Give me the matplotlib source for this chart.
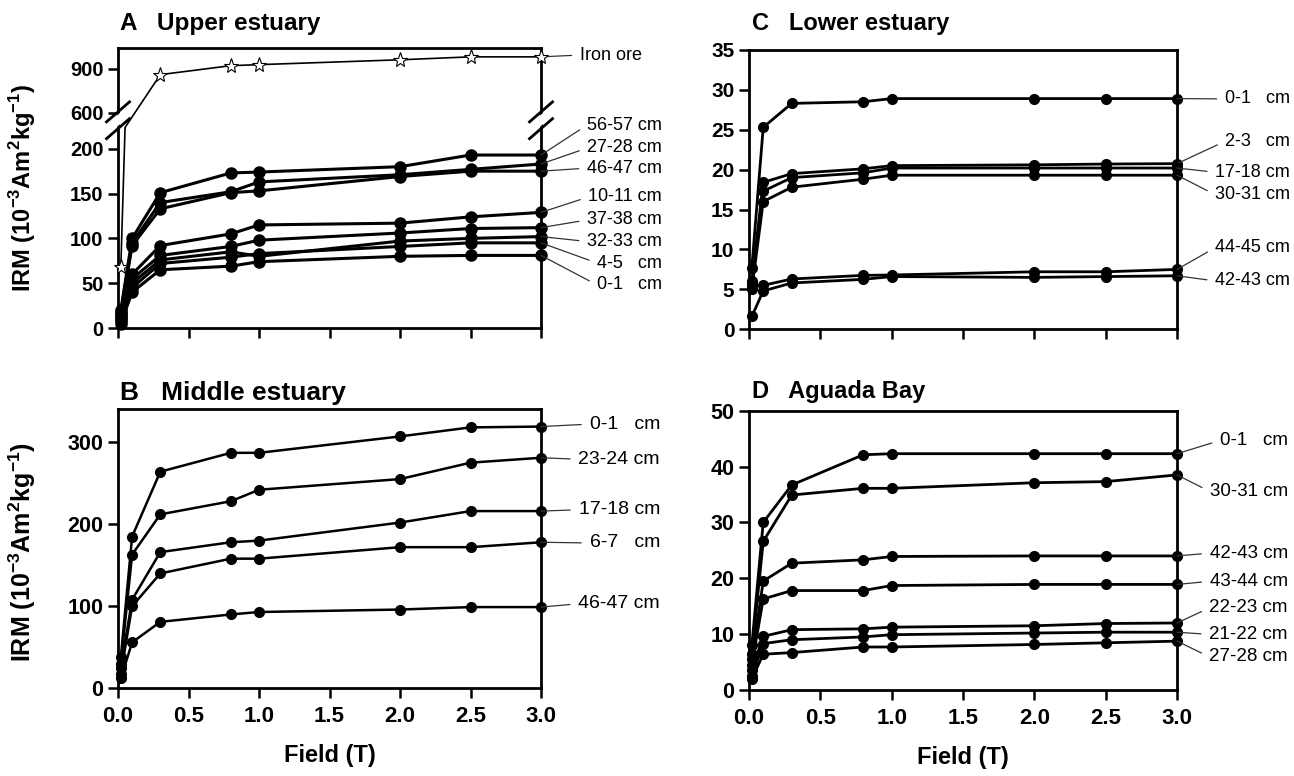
import matplotlib
matplotlib.use("Agg")
import matplotlib.pyplot as plt
import numpy as np
from matplotlib.patches import Polygon
from matplotlib.lines import Line2D

FONT = "Liberation Sans"
plt.rcParams["font.family"] = [FONT, "DejaVu Sans"]
plt.rcParams["mathtext.fontset"] = "custom"
plt.rcParams["mathtext.rm"] = FONT
plt.rcParams["mathtext.bf"] = FONT + ":bold"

# ---- dati (campo in T, IRM in 10^-3 Am2/kg) ----
field = [0.02, 0.1, 0.3, 0.8, 1.0, 2.0, 2.5, 3.0]

# A - Upper estuary
iron_field = [0.02, 0.05, 0.3, 0.8, 1.0, 2.0, 2.5, 3.0]
iron_ore = [68, 290, 859, 920, 927, 960, 980, 980]
a_labels = ["56-57 cm", "27-28 cm", "46-47 cm", "10-11 cm", "37-38 cm",
            "32-33 cm", "4-5   cm", "0-1   cm"]
a_values = [
    [20, 100, 151, 173, 174, 180, 193, 193],
    [18, 95, 140, 152, 163, 171, 177, 183],
    [16, 92, 133, 151, 153, 169, 175, 175],
    [14, 60, 92, 105, 115, 117, 124, 129],
    [12, 55, 81, 91, 98, 106, 111, 112],
    [10, 50, 76, 85, 80, 97, 100, 102],
    [8, 45, 72, 79, 83, 91, 95, 95],
    [5, 40, 65, 69, 74, 80, 81, 81],
]

# B - Middle estuary
b_labels = ["0-1   cm", "23-24 cm", "17-18 cm", "6-7   cm", "46-47 cm"]
b_values = [
    [38, 185, 264, 287, 287, 307, 318, 319],
    [30, 163, 212, 228, 242, 255, 275, 281],
    [25, 108, 166, 178, 180, 202, 216, 216],
    [18, 100, 140, 158, 158, 172, 172, 178],
    [12, 56, 81, 90, 93, 96, 99, 99],
]

# C - Lower estuary
c_labels = ["0-1   cm", "2-3   cm", "17-18 cm", "30-31 cm", "44-45 cm", "42-43 cm"]
c_values = [
    [7.7, 25.3, 28.3, 28.5, 28.9, 28.9, 28.9, 28.9],
    [6.0, 18.4, 19.5, 20.1, 20.5, 20.6, 20.7, 20.75],
    [5.5, 17.3, 19.0, 19.6, 20.2, 20.2, 20.2, 20.2],
    [5.0, 16.0, 17.8, 18.8, 19.3, 19.3, 19.3, 19.3],
    [5.5, 5.5, 6.3, 6.75, 6.8, 7.2, 7.2, 7.5],
    [1.6, 4.8, 5.8, 6.25, 6.6, 6.5, 6.6, 6.7],
]

# D - Aguada Bay
d_labels = ["0-1   cm", "30-31 cm", "42-43 cm", "43-44 cm", "22-23 cm",
            "21-22 cm", "27-28 cm"]
d_values = [
    [8.0, 30.0, 36.7, 42.1, 42.3, 42.3, 42.3, 42.3],
    [6.5, 26.6, 34.9, 36.1, 36.1, 37.1, 37.3, 38.5],
    [5.5, 19.5, 22.7, 23.3, 23.9, 24.0, 24.0, 24.0],
    [4.5, 16.3, 17.8, 17.8, 18.7, 18.9, 18.9, 18.9],
    [3.5, 9.6, 10.8, 10.95, 11.25, 11.5, 11.9, 12.0],
    [2.5, 8.3, 9.0, 9.5, 9.9, 10.2, 10.35, 10.35],
    [2.0, 6.4, 6.7, 7.7, 7.7, 8.15, 8.45, 8.75],
]

# posizione delle etichette (frazione degli assi): x bordo destro, y centro
a_lab_x, a_lab_y = 1.286, [0.725, 0.643, 0.571, 0.468, 0.386, 0.309, 0.232, 0.154]
b_lab_x, b_lab_y = 1.281, [0.947, 0.821, 0.640, 0.521, 0.303]
c_lab_x, c_lab_y = 1.264, [0.8245, 0.673, 0.562, 0.482, 0.292, 0.173]
d_lab_x, d_lab_y = 1.259, [0.893, 0.711, 0.490, 0.389, 0.294, 0.199, 0.119]

ylabel = r"IRM (10$^{\mathbf{-3}}$Am$^{\mathbf{2}}$kg$^{\mathbf{-1}}$)"

# asse y spezzato per il pannello A
y_knots = [-1000, 0, 220, 600, 3000]
p_knots = [-1000, 0, 220, 240.2, 240.2 + 2400 * 0.164]


def fwd(y):
    return np.interp(y, y_knots, p_knots)


def inv(p):
    return np.interp(p, p_knots, y_knots)


def style_axes(ax, xsize, ysize, show_xlabels):
    for s in ax.spines.values():
        s.set_linewidth(2.0)
    ax.set_xlim(0, 3.0)
    ax.set_xticks(np.arange(0, 3.01, 0.5))
    ax.tick_params(direction="out", length=7, width=1.8, top=False, right=False)
    ax.tick_params(axis="x", pad=6)
    if show_xlabels:
        ax.set_xticklabels([f"{v:.1f}" for v in np.arange(0, 3.01, 0.5)])
    else:
        ax.set_xticklabels([])
    for lab in ax.get_xticklabels():
        lab.set_fontweight("bold")
        lab.set_fontsize(xsize)
    for lab in ax.get_yticklabels():
        lab.set_fontweight("bold")
        lab.set_fontsize(ysize)


def draw_series(ax, values, labels, lab_x, lab_y, lw, ms, fsize):
    for vals, lab, ly in zip(values, labels, lab_y):
        ax.plot(field, vals, "-o", color="black", lw=lw, ms=ms, clip_on=False, zorder=3)
        ax.annotate(lab, xy=(field[-1], vals[-1]), xycoords="data",
                    xytext=(lab_x, ly), textcoords="axes fraction",
                    ha="right", va="center", fontsize=fsize,
                    arrowprops=dict(arrowstyle="-", color="#333333", lw=0.9,
                                    relpos=(0, 0.5), shrinkA=4, shrinkB=0))


fig = plt.figure(figsize=(12.94, 7.76), dpi=100)
axA = fig.add_axes([0.0912, 0.5773, 0.3269, 0.3608])
axB = fig.add_axes([0.0912, 0.1130, 0.3269, 0.3595])
axC = fig.add_axes([0.5788, 0.5757, 0.3308, 0.3600])
axD = fig.add_axes([0.5788, 0.1108, 0.3308, 0.3600])

# ---- A ----
axA.set_yscale("function", functions=(fwd, inv))
axA.set_ylim(0, 1040)
axA.set_yticks([0, 50, 100, 150, 200, 600, 900])
axA.set_yticklabels(["0", "50", "100", "150", "200", "600", "900"])
style_axes(axA, 14, 14.5, False)
draw_series(axA, a_values, a_labels, a_lab_x, a_lab_y, 2.2, 8, 13)
# il punto a 0.05 T cade nell'interruzione: niente marker
axA.plot(iron_field, iron_ore, "-*", color="black", lw=1.2, ms=11,
         mfc="white", mec="black", mew=0.8, clip_on=False, zorder=4,
         markevery=[0, 2, 3, 4, 5, 6, 7])
axA.annotate("Iron ore", xy=(iron_field[-1], iron_ore[-1]), xycoords="data",
             xytext=(1.092, 0.975), textcoords="axes fraction",
             ha="left", va="center", fontsize=13,
             arrowprops=dict(arrowstyle="-", color="#333333", lw=0.9,
                             relpos=(0, 0.5), shrinkA=4, shrinkB=0))

# segni di interruzione dell'asse
dx, dy = 0.0272, 0.0357
c1, c2 = 0.772, 0.712
for x0 in (0.0, 1.0):
    band = Polygon([(x0 - dx, c2 - dy + 0.01), (x0 + dx, c2 + dy + 0.01),
                    (x0 + dx, c1 + dy - 0.01), (x0 - dx, c1 - dy - 0.01)],
                   closed=True, facecolor="white", edgecolor="none",
                   transform=axA.transAxes, clip_on=False, zorder=10)
    axA.add_patch(band)
    for c in (c1, c2):
        axA.add_line(Line2D([x0 - dx, x0 + dx], [c - dy, c + dy], color="black",
                            lw=2.0, transform=axA.transAxes, clip_on=False, zorder=11))

axA.text(0.005, 1.064, "A   Upper estuary", transform=axA.transAxes,
         fontsize=17.5, fontweight="bold", va="baseline", ha="left")
axA.set_ylabel(ylabel, fontsize=17, fontweight="bold")
axA.yaxis.set_label_coords(-0.19, 0.5)

# ---- B ----
axB.set_ylim(0, 340)
axB.set_yticks([0, 100, 200, 300])
style_axes(axB, 16, 15.5, True)
draw_series(axB, b_values, b_labels, b_lab_x, b_lab_y, 1.8, 7, 14)
axB.text(0.005, 1.032, "B   Middle estuary", transform=axB.transAxes,
         fontsize=19, fontweight="bold", va="baseline", ha="left")
axB.set_ylabel(ylabel, fontsize=18, fontweight="bold")
axB.yaxis.set_label_coords(-0.19, 0.49)
axB.set_xlabel("Field (T)", fontsize=17, fontweight="bold")
axB.xaxis.set_label_coords(0.5, -0.2)

# ---- C ----
axC.set_ylim(0, 35)
axC.set_yticks(np.arange(0, 36, 5))
style_axes(axC, 14, 15, False)
draw_series(axC, c_values, c_labels, c_lab_x, c_lab_y, 2.0, 7, 13)
axC.text(0.007, 1.07, "C   Lower estuary", transform=axC.transAxes,
         fontsize=17, fontweight="bold", va="baseline", ha="left")

# ---- D ----
axD.set_ylim(0, 50)
axD.set_yticks(np.arange(0, 51, 10))
style_axes(axD, 16, 15.5, True)
draw_series(axD, d_values, d_labels, d_lab_x, d_lab_y, 2.0, 7, 13.5)
axD.text(0.007, 1.045, "D   Aguada Bay", transform=axD.transAxes,
         fontsize=17, fontweight="bold", va="baseline", ha="left")
axD.set_xlabel("Field (T)", fontsize=17, fontweight="bold")
axD.xaxis.set_label_coords(0.5, -0.2)

fig.savefig("out.png", dpi=100)
